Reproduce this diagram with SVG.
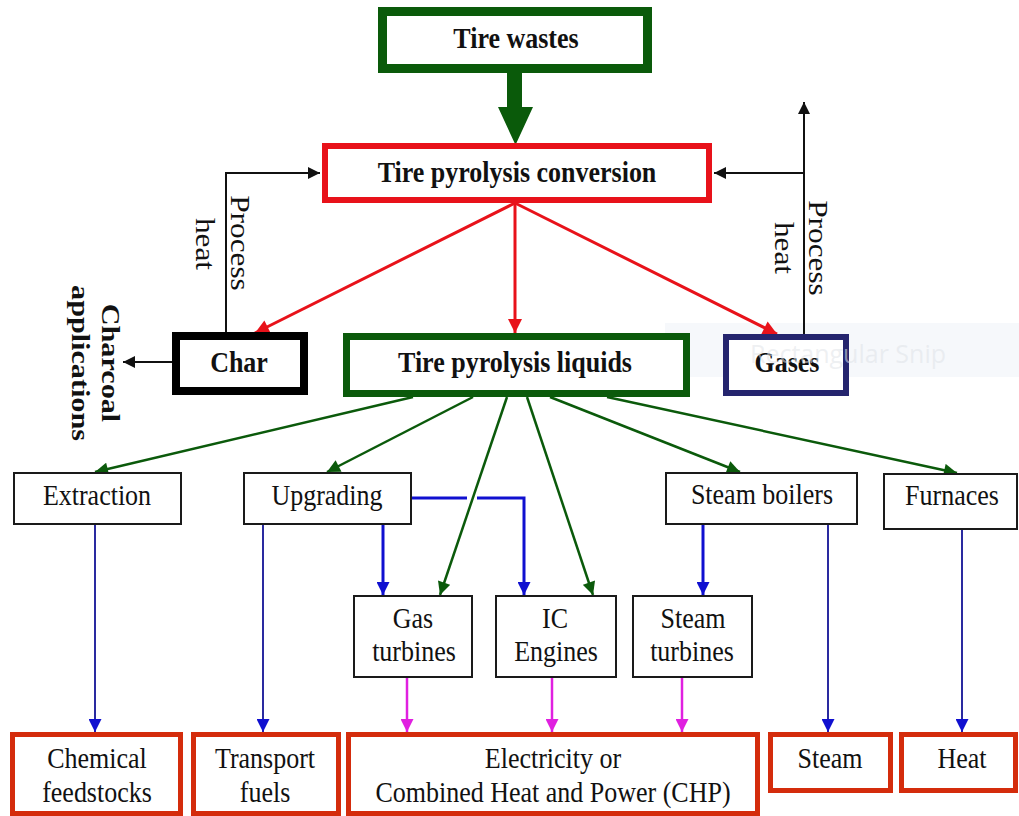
<svg xmlns="http://www.w3.org/2000/svg" width="1019" height="816" viewBox="0 0 1019 816">
<style>
.t{font-family:"Liberation Serif","Times New Roman",serif;font-size:26px;text-anchor:middle;fill:#111}
.b{font-weight:bold}
.thin{fill:#fff;stroke:#1a1a1a;stroke-width:2}
.out{fill:#fff;stroke:#d42c0c;stroke-width:5}
.cg{fill:none;stroke:#0b5a0b;stroke-width:2.5;marker-end:url(#ag)}
.cr{fill:none;stroke:#e8121a;stroke-width:3;marker-end:url(#ar)}
.ck{fill:none;stroke:#111;stroke-width:2;marker-end:url(#ak)}
.cbl{fill:none;stroke:#2a2aa0;stroke-width:2;marker-end:url(#ab)}
.cb{fill:none;stroke:#1010d0;stroke-width:3;marker-end:url(#ab)}
.cm{fill:none;stroke:#e020e0;stroke-width:2.5;marker-end:url(#am)}
</style>
<defs>
<marker id="ag" viewBox="0 0 10 10" refX="10" refY="5" markerWidth="15" markerHeight="13" markerUnits="userSpaceOnUse" orient="auto"><path d="M0,0 L10,5 L0,10 z" fill="#0b5a0b"/></marker>
<marker id="ar" viewBox="0 0 10 10" refX="10" refY="5" markerWidth="15" markerHeight="14" markerUnits="userSpaceOnUse" orient="auto"><path d="M0,0 L10,5 L0,10 z" fill="#e8121a"/></marker>
<marker id="ak" viewBox="0 0 10 10" refX="10" refY="5" markerWidth="14" markerHeight="12" markerUnits="userSpaceOnUse" orient="auto"><path d="M0,0 L10,5 L0,10 z" fill="#111"/></marker>
<marker id="ab" viewBox="0 0 10 10" refX="10" refY="5" markerWidth="14" markerHeight="13" markerUnits="userSpaceOnUse" orient="auto"><path d="M0,0 L10,5 L0,10 z" fill="#1010d0"/></marker>
<marker id="am" viewBox="0 0 10 10" refX="10" refY="5" markerWidth="14" markerHeight="13" markerUnits="userSpaceOnUse" orient="auto"><path d="M0,0 L10,5 L0,10 z" fill="#e020e0"/></marker>
</defs>
<rect width="1019" height="816" fill="#fff"/>
<rect x="665" y="323" width="354" height="54" fill="#f6f8fb"/>

<g id="connectors">
<polygon points="507,73 522,73 522,107 533,107 515.5,145 498,107 507,107" fill="#0a5a0a"/>
<path class="cr" d="M515,203 L255,333"/>
<path class="cr" d="M515,203 L515,333"/>
<path class="cr" d="M515,203 L777,334"/>
<path class="ck" d="M226,333 V173 H320"/>
<path class="ck" d="M804,334 V102"/>
<path class="ck" d="M804,173 H714"/>
<path class="ck" d="M172,362 H123"/>
<path class="cg" d="M413,397 L95,472"/>
<path class="cg" d="M473,397 L327,472"/>
<path class="cg" d="M507,397 L440,595"/>
<path class="cg" d="M527,397 L593,595"/>
<path class="cg" d="M550,397 L740,472"/>
<path class="cg" d="M607,397 L957,473"/>
<path class="cb" d="M412,498 H467 M477,498 H524 V595"/>
<path class="cb" d="M383,525 V595"/>
<path class="cb" d="M703,525 V595"/>
<path class="cbl" d="M95,525 V732"/>
<path class="cbl" d="M263,525 V732"/>
<path class="cbl" d="M828,525 V732"/>
<path class="cbl" d="M962,530 V732"/>
<path class="cm" d="M407,678 V732"/>
<path class="cm" d="M552,678 V732"/>
<path class="cm" d="M682,678 V732"/>
</g>

<g id="tire-wastes">
<rect x="382.5" y="11.5" width="265" height="57" fill="#fff" stroke="#0a5a0a" stroke-width="9"/>
<text class="t b" transform="translate(516,48) scale(1,1.16)">Tire wastes</text>
</g>
<g id="conversion">
<rect x="325" y="146" width="384" height="54" fill="#fff" stroke="#e8121a" stroke-width="6"/>
<text class="t b" transform="translate(517,182) scale(1,1.16)">Tire pyrolysis conversion</text>
</g>
<g id="char">
<rect x="176" y="336" width="128" height="55" fill="#fff" stroke="#000" stroke-width="8"/>
<text class="t b" transform="translate(239,372) scale(1,1.16)">Char</text>
</g>
<g id="liquids">
<rect x="346.5" y="336.5" width="340" height="57" fill="#fff" stroke="#0b5a0b" stroke-width="7"/>
<text class="t b" transform="translate(515,372) scale(1,1.16)">Tire pyrolysis liquids</text>
</g>
<g id="gases">
<rect x="726" y="337" width="120" height="56" fill="#fff" stroke="#25256e" stroke-width="6"/>
<text class="t b" transform="translate(787,372) scale(1,1.16)">Gases</text>
</g>

<g id="label-process-heat-left">
<text class="t" style="font-size:27px" transform="translate(231,243) rotate(90) scale(1.16,1)">Process</text>
<text class="t" style="font-size:27px" transform="translate(196,244) rotate(90) scale(1.16,1)">heat</text>
</g>
<g id="label-process-heat-right">
<text class="t" style="font-size:27px" transform="translate(809,248) rotate(90) scale(1.16,1)">Process</text>
<text class="t" style="font-size:27px" transform="translate(775,248) rotate(90) scale(1.16,1)">heat</text>
</g>
<g id="label-charcoal">
<text class="t b" transform="translate(102,363) rotate(90) scale(1.16,1)">Charcoal</text>
<text class="t b" transform="translate(72,363) rotate(90) scale(1.16,1)">applications</text>
</g>

<g id="extraction">
<rect class="thin" x="14" y="473" width="167" height="51"/>
<text class="t" transform="translate(97,505) scale(1,1.16)">Extraction</text>
</g>
<g id="upgrading">
<rect class="thin" x="244" y="473" width="167" height="51"/>
<text class="t" transform="translate(327,505) scale(1,1.16)">Upgrading</text>
</g>
<g id="steam-boilers">
<rect class="thin" x="666" y="473" width="191" height="51"/>
<text class="t" transform="translate(762,504) scale(1,1.16)">Steam boilers</text>
</g>
<g id="furnaces">
<rect class="thin" x="884" y="474" width="133" height="55"/>
<text class="t" transform="translate(952,505) scale(1,1.16)">Furnaces</text>
</g>
<g id="gas-turbines">
<rect class="thin" x="354" y="596" width="118" height="81"/>
<text class="t" transform="translate(413,628) scale(1,1.16)">Gas</text>
<text class="t" transform="translate(414,661) scale(1,1.16)">turbines</text>
</g>
<g id="ic-engines">
<rect class="thin" x="496" y="596" width="120" height="81"/>
<text class="t" transform="translate(555,628) scale(1,1.16)">IC</text>
<text class="t" transform="translate(556,661) scale(1,1.16)">Engines</text>
</g>
<g id="steam-turbines">
<rect class="thin" x="633" y="596" width="119" height="81"/>
<text class="t" transform="translate(693,628) scale(1,1.16)">Steam</text>
<text class="t" transform="translate(692,661) scale(1,1.16)">turbines</text>
</g>

<g id="chemical-feedstocks">
<rect class="out" x="12.5" y="734.5" width="168" height="79"/>
<text class="t" transform="translate(97,768) scale(1,1.16)">Chemical</text>
<text class="t" transform="translate(97,802) scale(1,1.16)">feedstocks</text>
</g>
<g id="transport-fuels">
<rect class="out" x="193.5" y="734.5" width="145" height="79"/>
<text class="t" transform="translate(265,768) scale(1,1.16)">Transport</text>
<text class="t" transform="translate(265,802) scale(1,1.16)">fuels</text>
</g>
<g id="electricity">
<rect class="out" x="348.5" y="734.5" width="409" height="79"/>
<text class="t" transform="translate(553,768) scale(1,1.16)">Electricity or</text>
<text class="t" transform="translate(553,802) scale(1,1.16)">Combined Heat and Power (CHP)</text>
</g>
<g id="steam">
<rect class="out" x="770.5" y="734.5" width="120" height="56"/>
<text class="t" transform="translate(830,768) scale(1,1.16)">Steam</text>
</g>
<g id="heat">
<rect class="out" x="901.5" y="734.5" width="114" height="56"/>
<text class="t" transform="translate(962,768) scale(1,1.16)">Heat</text>
</g>

<g id="snip-overlay">
<text x="848" y="363" style="font-family:'Open Sans','DejaVu Sans',sans-serif;font-size:25px;text-anchor:middle;fill:#dfe3e8;fill-opacity:0.55">Rectangular Snip</text>
</g>
</svg>
